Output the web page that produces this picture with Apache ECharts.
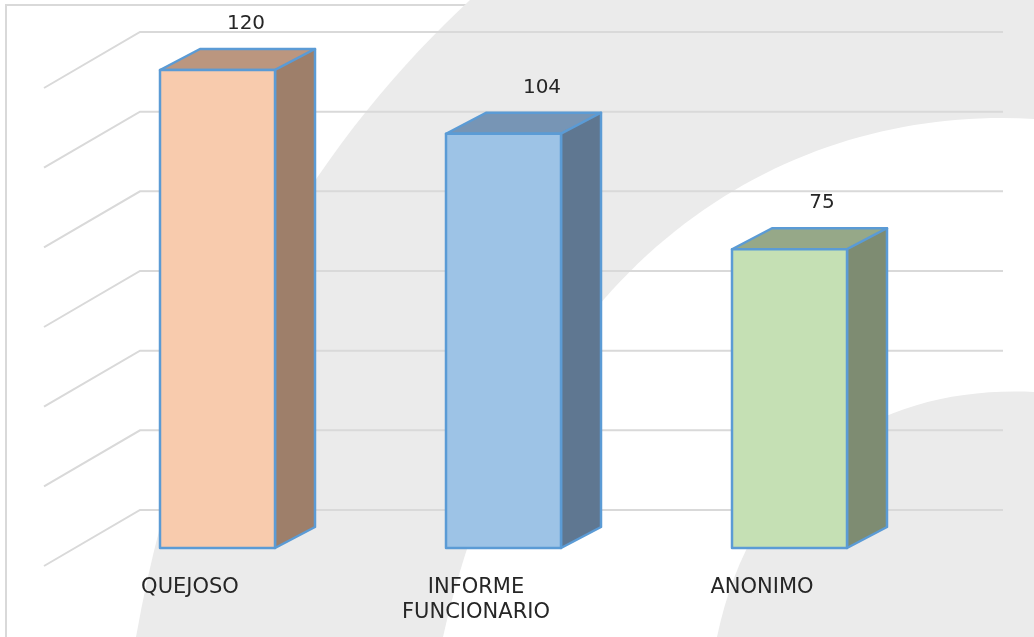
<!DOCTYPE html>
<html><head><meta charset="utf-8">
<style>html,body{margin:0;padding:0;background:#fff}#c{width:1034px;height:637px}</style>
<script src="https://cdn.jsdelivr.net/npm/echarts@6/dist/echarts.min.js"></script>
</head><body><div id="c"></div>
<script>
const categories = ['QUEJOSO', 'INFORME\nFUNCIONARIO', 'ANONIMO'];
const values = [120, 104, 75];
const yTicks = [0, 20, 40, 60, 80, 100, 120];

const frontColors = ['#f8cbad', '#9dc3e6', '#c5e0b4'];
const sideColors = ['#9e7f6a', '#5f7791', '#7e8c72'];
const topColors = ['#bb967f', '#7795b5', '#96a888'];
const labelShiftX = [1, 11, 5];
const WALL = [96, -56], BAR_FRONT = [27.5, -18], BAR_DEPTH = [40, -21], BAR_W = 115;
const TEXT = '#262626', FONT = '"DejaVu Sans", sans-serif';
const PAGE_W = 1034, PAGE_H = 637;
const anchor = 'M0 0 L0 0 M1034 637 L1034 637 ';
const backdrop = [
  ['#ebebeb', anchor + 'M470 0 C330 130 190 330 136 637 L1034 637 L1034 0 Z'],
  ['#ffffff', anchor + 'M1034 119 C790 105 530 250 443 637 L1034 637 Z'],
  ['#ebebeb', anchor + 'M1034 392 C890 385 755 455 717 637 L1034 637 Z']
];

const chart = echarts.init(document.getElementById('c'), null, {renderer: 'canvas'});
chart.setOption({
  animation: false,
  backgroundColor: '#fff',
  graphic: [
    {type: 'polyline', z: 0, silent: true, shape: {points: [[6, 637], [6, 5], [1034, 5]]},
      style: {stroke: '#d9d9d9', lineWidth: 2, fill: null}}
  ],
  grid: {left: 47, width: 858, top: 88, bottom: 71},
  xAxis: {
    type: 'category', data: categories,
    axisLine: {show: false}, axisTick: {show: false}, splitLine: {show: false},
    axisLabel: {color: TEXT, fontFamily: FONT, fontSize: 21, margin: 9, lineHeight: 25, interval: 0}
  },
  yAxis: {
    type: 'value', min: 0, max: 120, interval: 20,
    axisLine: {show: false}, axisTick: {show: false}, axisLabel: {show: false}, splitLine: {show: false}
  },
  series: [
    {
      type: 'custom', silent: true, z: 0,
      data: backdrop.map((d, i) => [i, 0]),
      encode: {x: 0, y: 1},
      renderItem(params) {
        const d = backdrop[params.dataIndex];
        return {type: 'path', z2: params.dataIndex,
          shape: {pathData: d[1], x: 0, y: 0, width: PAGE_W, height: PAGE_H, layout: 'cover'},
          style: {fill: d[0]}};
      }
    },
    {
      type: 'custom', silent: true, z: 1,
      data: yTicks.map(v => [0, v]),
      encode: {x: 0, y: 1},
      renderItem(params, api) {
        const y = api.coord([0, api.value(1)])[1];
        const x0 = params.coordSys.x - 3;
        const style = {stroke: '#d9d9d9', lineWidth: 2, fill: null};
        return {type: 'polyline', shape: {points: [[x0, y], [x0 + WALL[0], y + WALL[1]], [1003, y + WALL[1]]]}, style};
      }
    },
    {
      type: 'custom', silent: true, z: 2,
      data: values.map((v, i) => [i, v]),
      encode: {x: 0, y: 1},
      renderItem(params, api) {
        const i = api.value(0), v = api.value(1);
        const cTop = api.coord([i, v]), cBase = api.coord([i, 0]);
        const l = cTop[0] + BAR_FRONT[0] - BAR_W / 2, r = l + BAR_W;
        const t = cTop[1] + BAR_FRONT[1], b = cBase[1] + BAR_FRONT[1];
        const dx = BAR_DEPTH[0], dy = BAR_DEPTH[1];
        const line = {stroke: '#5b9bd5', lineWidth: 2.5, lineJoin: 'round'};
        return {type: 'group', children: [
          {type: 'polygon', shape: {points: [[l, t], [l + dx, t + dy], [r + dx, t + dy], [r, t]]},
            style: Object.assign({fill: topColors[i]}, line)},
          {type: 'polygon', shape: {points: [[r, t], [r + dx, t + dy], [r + dx, b + dy], [r, b]]},
            style: Object.assign({fill: sideColors[i]}, line)},
          {type: 'rect', shape: {x: l, y: t, width: BAR_W, height: b - t},
            style: Object.assign({fill: frontColors[i]}, line)},
          {type: 'text', style: {
            x: (l + r) / 2 + 27.5 + labelShiftX[i], y: t - 46, text: String(v),
            fill: TEXT, font: '20px ' + FONT, align: 'center', verticalAlign: 'middle'}}
        ]};
      }
    }
  ]
});
</script></body></html>
